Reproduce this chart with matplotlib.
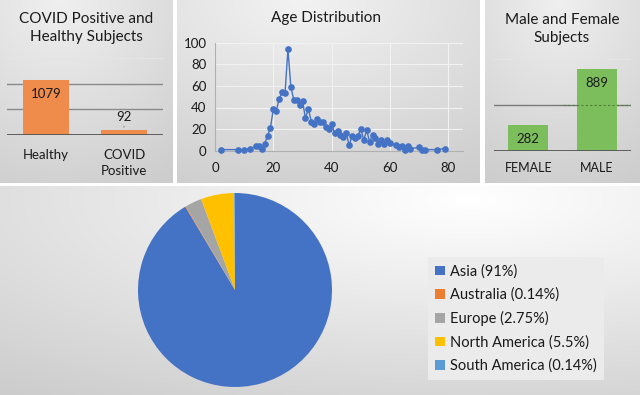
import numpy as np
import matplotlib
matplotlib.use("Agg")
import matplotlib.pyplot as plt
from matplotlib.patches import Patch

plt.rcParams["font.family"] = ["Lato", "DejaVu Sans"]

# ─── Data ────────────────────────────────────────────────────────────────────
status_labels = ["Healthy", "COVID\nPositive"]
status_counts = [1079, 92]

ages = [2, 8, 10, 12, 14, 15, 16, 17, 18, 19,
        20, 21, 22, 23, 24, 25, 26, 27, 28, 29,
        30, 31, 32, 33, 34, 35, 36, 37, 38, 39,
        40, 41, 42, 43, 44, 45, 46, 47, 48, 49,
        50, 51, 52, 53, 54, 55, 56, 57, 58, 59,
        60, 62, 63, 64, 65, 66, 67, 70, 71, 72, 76, 79]
age_counts = [1, 1, 1, 2, 4, 4, 2, 6, 14, 21,
              39, 37, 48, 54, 53, 94, 59, 47, 47, 42,
              46, 30, 39, 27, 25, 29, 27, 27, 22, 20,
              25, 16, 18, 15, 13, 16, 5, 14, 12, 14,
              20, 10, 19, 8, 15, 12, 6, 10, 6, 10,
              7, 5, 3, 4, 1, 4, 2, 3, 1, 1, 1, 2]

gender_labels = ["FEMALE", "MALE"]
gender_counts = [282, 889]

regions = ["Asia", "Australia", "Europe", "North America", "South America"]
region_pct = [91, 0.14, 2.75, 5.5, 0.14]
region_pct_text = ["91%", "0.14%", "2.75%", "5.5%", "0.14%"]
region_colors = ["#4472C4", "#ED7D31", "#A5A5A5", "#FFC000", "#5B9BD5"]

# ─── Layout helpers (pixel boxes on a 640x395 canvas) ────────────────────────
W, H = 640, 395
fig = plt.figure(figsize=(6.4, 3.95), dpi=100)
fig.patch.set_facecolor("white")


def box(x0, y0, x1, y1):
    return [x0 / W, 1 - y1 / H, (x1 - x0) / W, (y1 - y0) / H]


def panel(x0, y0, x1, y1, cx, cy, lo, hi):
    # gray gradient card behind each chart
    ax = fig.add_axes(box(x0, y0, x1, y1), zorder=-5)
    xs = np.linspace(x0, x1, 200)
    ys = np.linspace(y0, y1, 120)
    X, Y = np.meshgrid(xs, ys)
    d = np.sqrt(((X - cx) / (x1 - x0)) ** 2 + ((Y - cy) / (y1 - y0)) ** 2)
    d = np.clip(d / d.max(), 0, 1)
    g = hi - (hi - lo) * d
    ax.imshow(np.dstack([g, g, g]), aspect="auto", extent=(0, 1, 1, 0))
    ax.set_axis_off()


panel(0, 0, 173, 183, 60, 0, 0.80, 0.94)
panel(177, 0, 480, 183, 300, 0, 0.80, 0.95)
panel(485, 0, 640, 183, 560, 0, 0.80, 0.94)
panel(0, 186, 640, 395, 470, 200, 0.80, 1.0)

TXT = "#1a1a1a"

# ─── Top-left: COVID positive vs healthy ─────────────────────────────────────
fig.text(86 / W, 1 - 28 / H, "COVID Positive and\nHealthy Subjects",
         ha="center", va="center", fontsize=11, color=TXT, linespacing=1.3)
ax1 = fig.add_axes(box(7, 58, 163, 135))
xb = np.arange(len(status_counts))
ax1.bar(xb, status_counts, width=0.59, color="#EF8B4B", zorder=3)
ax1.set_ylim(0, 1500)
ax1.set_xlim(-0.5, 1.5)
for yv, c in [(500, "#8a8a8a"), (1000, "#8a8a8a"), (1500, "#e4e4e4")]:
    ax1.axhline(yv, color=c, lw=1, zorder=1)
ax1.axhline(0, color="#555555", lw=1.3, zorder=4)
ax1.annotate(str(status_counts[0]), xy=(xb[0], status_counts[0]),
             xytext=(0, -10), textcoords="offset points", ha="center",
             va="center", fontsize=9.5, color=TXT, zorder=5)
ax1.annotate(str(status_counts[1]), xy=(xb[1], status_counts[1] + 60),
             xytext=(xb[1], status_counts[1] + 250), ha="center", va="center",
             fontsize=9.5, color=TXT,
             arrowprops=dict(arrowstyle="-", color="#8a8a8a", lw=0.8,
                             shrinkA=6, shrinkB=0))
ax1.set_xticks(xb)
ax1.set_xticklabels(status_labels, fontsize=9.5, color=TXT, linespacing=1.45)
ax1.tick_params(axis="x", length=0, pad=10)
ax1.set_yticks([])
for s in ax1.spines.values():
    s.set_visible(False)
ax1.patch.set_alpha(0)

# ─── Top-middle: age distribution ────────────────────────────────────────────
fig.text(326 / W, 1 - 18 / H, "Age Distribution", ha="center", va="center",
         fontsize=11, color=TXT)
ax2 = fig.add_axes(box(215, 42.7, 463, 150.7))
ax2.plot(ages, age_counts, color="#4472C4", lw=1, marker="o", ms=4.8,
         markeredgewidth=0, zorder=3, clip_on=False)
ax2.set_xlim(0, 85)
ax2.set_ylim(0, 100)
ax2.set_xticks([0, 20, 40, 60, 80])
ax2.set_yticks([0, 20, 40, 60, 80, 100])
ax2.grid(True, color="#f2f2f2", lw=0.8, zorder=0)
ax2.tick_params(labelsize=9.5, length=0, colors=TXT)
ax2.tick_params(axis="x", pad=8)
ax2.tick_params(axis="y", pad=6)
for k in ["top", "right"]:
    ax2.spines[k].set_visible(False)
for k in ["left", "bottom"]:
    ax2.spines[k].set_color("#b0b0b0")
    ax2.spines[k].set_linewidth(0.8)
ax2.patch.set_alpha(0)

# ─── Top-right: male vs female ───────────────────────────────────────────────
fig.text(562 / W, 1 - 29 / H, "Male and Female\nSubjects", ha="center",
         va="center", fontsize=11, color=TXT, linespacing=1.35)
ax3 = fig.add_axes(box(494, 59, 631, 151))
xg = np.arange(len(gender_counts))
ax3.bar(xg, gender_counts, width=0.58, color="#7DBE5C", zorder=3)
ax3.set_ylim(0, 1000)
ax3.set_xlim(-0.5, 1.5)
ax3.axhline(500, color="#7a7a7a", lw=1, zorder=2)
ax3.axhline(500, color="#4f7f3a", lw=0.8, ls=(0, (2, 2)), zorder=3.5,
            xmin=0.5)
ax3.axhline(1000, color="#e4e4e4", lw=1, zorder=1)
ax3.axhline(0, color="#555555", lw=1.3, zorder=4)
for xi, v in zip(xg, gender_counts):
    ax3.annotate(str(v), xy=(xi, v), xytext=(0, -10),
                 textcoords="offset points", ha="center", va="center",
                 fontsize=9.5, color=TXT, zorder=5)
ax3.set_xticks(xg)
ax3.set_xticklabels(gender_labels, fontsize=9, color=TXT)
ax3.tick_params(axis="x", length=0, pad=8)
ax3.set_yticks([])
for s in ax3.spines.values():
    s.set_visible(False)
ax3.patch.set_alpha(0)

# ─── Bottom: region pie ──────────────────────────────────────────────────────
ax4 = fig.add_axes(box(138, 193, 332, 387))
ax4.pie(region_pct, colors=region_colors, startangle=90, counterclock=False,
        wedgeprops=dict(linewidth=0))
ax4.set_xlim(-1, 1)
ax4.set_ylim(-1, 1)

handles = [Patch(facecolor=c, edgecolor="none") for c in region_colors]
labels = [f"{r} ({p})" for r, p in zip(regions, region_pct_text)]
leg = fig.legend(handles, labels, loc="upper left",
                 bbox_to_anchor=(428 / W, 1 - 257 / H), fontsize=10.5,
                 frameon=True, fancybox=False, handlelength=0.65,
                 handleheight=0.65, handletextpad=0.35, labelspacing=0.62,
                 borderpad=0.5, borderaxespad=0)
leg.get_frame().set_facecolor("#ebebeb")
leg.get_frame().set_edgecolor("none")
leg.get_frame().set_alpha(1)
for t in leg.get_texts():
    t.set_color(TXT)

fig.savefig("out.png", dpi=100)
